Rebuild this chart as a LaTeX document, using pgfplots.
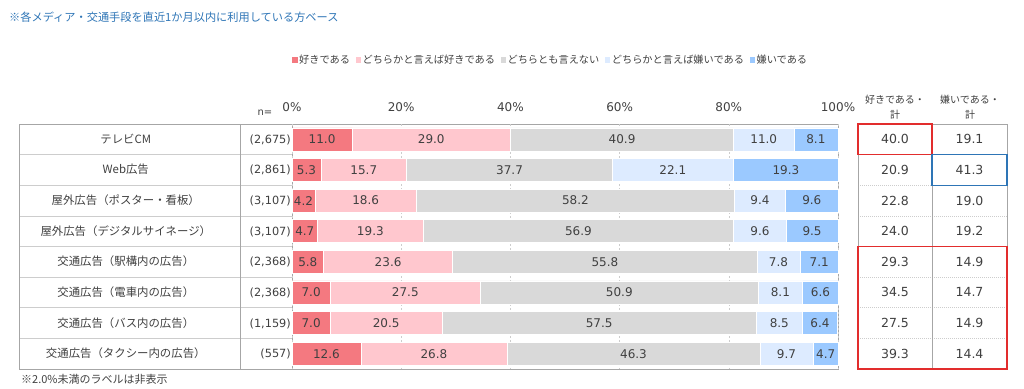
\documentclass[border=0pt]{standalone}
\usepackage{pgfplots}
\pgfplotsset{compat=1.18}
\usepackage{pgfplotstable}
\usepackage{fontspec}
\setmainfont{Noto Sans CJK JP}
\newfontfamily\numf{DejaVu Sans}
\definecolor{cA}{RGB}{244,121,128}
\definecolor{cB}{RGB}{255,199,206}
\definecolor{cC}{RGB}{217,217,217}
\definecolor{cD}{RGB}{221,235,255}
\definecolor{cE}{RGB}{155,201,255}
\definecolor{txt}{RGB}{64,64,64}
\definecolor{frame}{RGB}{166,166,166}
\definecolor{sep}{RGB}{205,205,205}
\definecolor{note}{RGB}{46,117,182}
\definecolor{redbox}{RGB}{226,45,45}
\definecolor{bluebox}{RGB}{46,117,182}

\pgfplotstableread{
r v
0 11.0
1 5.3
2 4.2
3 4.7
4 5.8
5 7.0
6 7.0
7 12.6
}\tA
\pgfplotstableread{
r v
0 29.0
1 15.7
2 18.6
3 19.3
4 23.6
5 27.5
6 20.5
7 26.8
}\tB
\pgfplotstableread{
r v
0 40.9
1 37.7
2 58.2
3 56.9
4 55.8
5 50.9
6 57.5
7 46.3
}\tC
\pgfplotstableread{
r v
0 11.0
1 22.1
2 9.4
3 9.6
4 7.8
5 8.1
6 8.5
7 9.7
}\tD
\pgfplotstableread{
r v
0 8.1
1 19.3
2 9.6
3 9.5
4 7.1
5 6.6
6 6.4
7 4.7
}\tE

\newcommand{\rowlab}[2]{\makebox[238pt][c]{#1}\makebox[46pt][r]{\numf\fontsize{11.3}{14}\selectfont #2}}

\begin{document}
\begin{tikzpicture}[x=1pt,y=1pt]
\path[use as bounding box] (0,0) rectangle (1024,388);

% title note and footnote
\node[anchor=west, inner sep=0pt, text=note, font=\fontsize{11.2}{12}\selectfont] at (9,371) {※各メディア・交通手段を直近1か月以内に利用している方ベース};
\node[anchor=west, inner sep=0pt, text=txt, font=\fontsize{11}{12}\selectfont] at (21,9) {※2.0\%未満のラベルは非表示};
\node[inner sep=0pt, text=txt, font=\numf\fontsize{10}{12}\selectfont] at (265,275) {n=};

% left table lines
\foreach \yy in {233.375,202.75,172.125,141.5,110.875,80.25,49.625}{
  \draw[sep, line width=0.6pt] (19,\yy) -- (292,\yy);
}
\draw[frame, line width=0.7pt] (240,19) -- (240,264);
\draw[frame, line width=0.7pt] (292,19) -- (292,264);
\draw[frame, line width=0.7pt] (19,19) rectangle (838,264);

% right table
\foreach \yy in {233.375,202.75,172.125,141.5,110.875,80.25,49.625}{
  \draw[sep, line width=0.6pt, dash pattern=on 1pt off 1pt] (858,\yy) -- (1007,\yy);
}
\draw[frame, line width=0.7pt] (932,19) -- (932,264);
\draw[frame, line width=0.7pt] (858,19) rectangle (1007,264);
\node[text=txt, font=\fontsize{10}{12}\selectfont, inner sep=0pt] at (895,288) {好きである・};
\node[text=txt, font=\fontsize{10}{12}\selectfont, inner sep=0pt] at (895,273) {計};
\node[text=txt, font=\fontsize{10}{12}\selectfont, inner sep=0pt] at (970,288) {嫌いである・};
\node[text=txt, font=\fontsize{10}{12}\selectfont, inner sep=0pt] at (970,273) {計};
\foreach \i/\a/\b in {0/40.0/19.1,1/20.9/41.3,2/22.8/19.0,3/24.0/19.2,4/29.3/14.9,5/34.5/14.7,6/27.5/14.9,7/39.3/14.4}{
  \node[text=txt, font=\numf\fontsize{12.5}{14}\selectfont, inner sep=0pt] at (895,{248.69-30.625*\i}) {\a};
  \node[text=txt, font=\numf\fontsize{12.5}{14}\selectfont, inner sep=0pt] at (969.5,{248.69-30.625*\i}) {\b};
}
\draw[redbox, line width=1.4pt] (858,233.375) rectangle (932,264);
\draw[bluebox, line width=1.4pt] (932,202.75) rectangle (1007,233.375);
\draw[redbox, line width=1.4pt] (858,19) rectangle (1007,141.5);

\begin{axis}[
  at={(292pt,19pt)}, anchor=south west,
  width=546pt, height=245pt, scale only axis,
  xbar stacked, bar width=23pt,
  xmin=0, xmax=100, ymin=-0.5, ymax=7.5,
  y dir=reverse,
  clip=false,
  axis line style={draw=none},
  major tick length=0pt,
  xtick={0,20,40,60,80,100},
  xticklabels={0\%,20\%,40\%,60\%,80\%,100\%},
  xticklabel pos=upper,
  xticklabel style={text=txt, font=\numf\fontsize{12}{14}\selectfont, yshift=9pt},
  xmajorgrids,
  grid style={sep, line width=0.6pt, dash pattern=on 2pt off 2pt},
  ytick={0,...,7},
  yticklabels={
    {\rowlab{テレビCM}{(2,675)}},
    {\rowlab{Web広告}{(2,861)}},
    {\rowlab{屋外広告（ポスター・看板）}{(3,107)}},
    {\rowlab{屋外広告（デジタルサイネージ）}{(3,107)}},
    {\rowlab{交通広告（駅構内の広告）}{(2,368)}},
    {\rowlab{交通広告（電車内の広告）}{(2,368)}},
    {\rowlab{交通広告（バス内の広告）}{(1,159)}},
    {\rowlab{交通広告（タクシー内の広告）}{(557)}}
  },
  yticklabel style={text=txt, font=\fontsize{11.4}{13}\selectfont, anchor=east, inner sep=0pt, xshift=-1pt},
  point meta=explicit symbolic,
  nodes near coords,
  every node near coord/.append style={anchor=center, text=txt, font=\numf\fontsize{12}{14}\selectfont},
  legend columns=5,
  legend style={at={(0.0,1.262)}, anchor=west, draw=none, fill=none, text=txt,
    font=\fontsize{10.2}{12}\selectfont, inner sep=0pt,
    /tikz/every even column/.append style={column sep=4pt},
    nodes={inner sep=1.5pt}},
  legend image code/.code={\fill[#1,draw=none] (0pt,-2.8pt) rectangle (5.5pt,2.8pt);},
]
\addplot[fill=cA, draw=white, line width=0.5pt] table[x=v, y=r, meta=v] {\tA};
\addplot[fill=cB, draw=white, line width=0.5pt] table[x=v, y=r, meta=v] {\tB};
\addplot[fill=cC, draw=white, line width=0.5pt] table[x=v, y=r, meta=v] {\tC};
\addplot[fill=cD, draw=white, line width=0.5pt] table[x=v, y=r, meta=v] {\tD};
\addplot[fill=cE, draw=white, line width=0.5pt] table[x=v, y=r, meta=v] {\tE};
\legend{好きである, どちらかと言えば好きである, どちらとも言えない, どちらかと言えば嫌いである, 嫌いである}
\end{axis}
\end{tikzpicture}
\end{document}
